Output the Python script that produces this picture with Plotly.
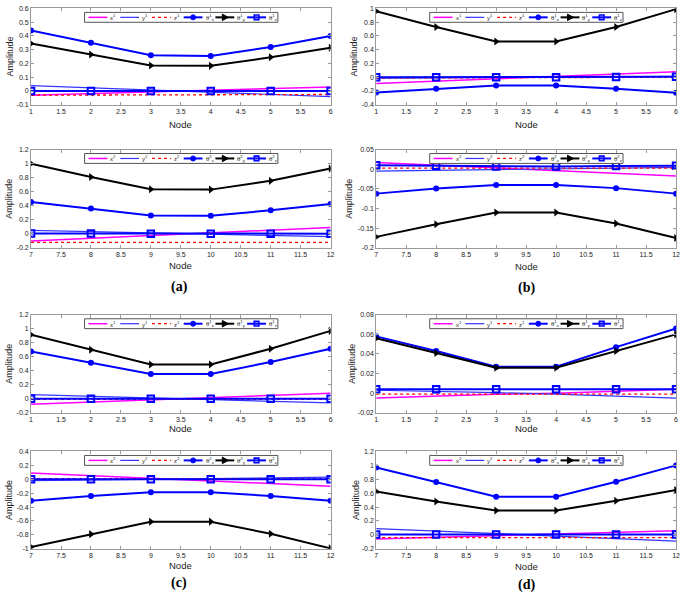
import plotly.graph_objects as go

W, H = 685, 598

# ---------------- data ----------------
nodes_1 = [1, 2, 3, 4, 5, 6]
nodes_2 = [7, 8, 9, 10, 11, 12]

# (a) upper, beam 1
a1_x = [-0.03, -0.018, -0.006, 0.006, 0.018, 0.03]
a1_y = [0.04, 0.025, 0.008, -0.008, -0.025, -0.04]
a1_z = [-0.03, -0.029, -0.028, -0.027, -0.026, -0.025]
a1_tx = [0.44, 0.35, 0.26, 0.255, 0.32, 0.40]
a1_ty = [0.345, 0.265, 0.185, 0.183, 0.245, 0.315]
a1_tz = [0.0, 0.0, 0.0, 0.0, 0.0, 0.0]
# (a) lower, beam 2
a2_x = [-0.1, -0.062, -0.024, 0.014, 0.052, 0.09]
a2_y = [0.05, 0.032, 0.014, -0.004, -0.022, -0.04]
a2_z = [-0.12, -0.12, -0.12, -0.12, -0.12, -0.12]
a2_tx = [0.455, 0.36, 0.26, 0.258, 0.335, 0.425]
a2_ty = [1.0, 0.81, 0.635, 0.63, 0.755, 0.93]
a2_tz = [0.005, 0.004, 0.003, 0.0, 0.0, 0.003]
# (b) upper
b1_x = [-0.09, -0.056, -0.022, 0.012, 0.046, 0.08]
b1_y = [-0.012, -0.007, -0.002, 0.003, 0.008, 0.012]
b1_z = [-0.01, -0.008, -0.006, -0.004, -0.002, 0.0]
b1_tx = [-0.22, -0.165, -0.12, -0.12, -0.165, -0.225]
b1_ty = [0.96, 0.73, 0.52, 0.52, 0.73, 0.99]
b1_tz = [0.0, 0.0, 0.0, 0.0, 0.005, 0.008]
# (b) lower
b2_x = [0.017, 0.010, 0.003, -0.003, -0.010, -0.017]
b2_y = [-0.005, -0.003, -0.001, 0.001, 0.003, 0.005]
b2_z = [0.003, 0.003, 0.003, 0.003, 0.003, 0.003]
b2_tx = [-0.062, -0.049, -0.04, -0.04, -0.048, -0.062]
b2_ty = [-0.172, -0.14, -0.11, -0.11, -0.138, -0.175]
b2_tz = [0.01, 0.009, 0.007, 0.007, 0.008, 0.009]
# (c) upper
c1_x = [-0.08, -0.048, -0.016, 0.016, 0.048, 0.08]
c1_y = [0.06, 0.036, 0.012, -0.012, -0.036, -0.06]
c1_z = [-0.01, -0.01, -0.01, -0.01, -0.01, -0.01]
c1_tx = [0.675, 0.515, 0.355, 0.355, 0.525, 0.715]
c1_ty = [0.915, 0.70, 0.49, 0.49, 0.715, 0.97]
c1_tz = [0.0, 0.0, 0.0, 0.0, 0.0, 0.0]
# (c) lower
c2_x = [0.09, 0.052, 0.014, -0.024, -0.062, -0.1]
c2_y = [-0.02, -0.01, 0.0, 0.01, 0.02, 0.03]
c2_z = [0.01, 0.01, 0.01, 0.01, 0.01, 0.01]
c2_tx = [-0.31, -0.24, -0.185, -0.185, -0.24, -0.31]
c2_ty = [-0.975, -0.79, -0.61, -0.61, -0.785, -0.995]
c2_tz = [0.0, 0.0, 0.0, 0.0, 0.0, 0.0]
# (d) upper
d1_x = [-0.005, -0.003, -0.001, 0.0, 0.002, 0.004]
d1_y = [0.003, 0.002, 0.0005, -0.001, -0.003, -0.005]
d1_z = [-0.001, -0.001, -0.001, -0.001, -0.001, -0.001]
d1_tx = [0.058, 0.043, 0.027, 0.027, 0.047, 0.066]
d1_ty = [0.056, 0.041, 0.026, 0.026, 0.043, 0.060]
d1_tz = [0.004, 0.004, 0.004, 0.004, 0.004, 0.004]
# (d) lower
d2_x = [-0.06, -0.036, -0.012, 0.012, 0.036, 0.06]
d2_y = [0.09, 0.054, 0.018, -0.018, -0.054, -0.09]
d2_z = [-0.04, -0.04, -0.04, -0.04, -0.04, -0.04]
d2_tx = [0.97, 0.76, 0.55, 0.55, 0.765, 1.0]
d2_ty = [0.625, 0.48, 0.35, 0.35, 0.49, 0.645]
d2_tz = [0.005, 0.005, 0.005, 0.005, 0.005, 0.005]

# tick labels
xt1_vals = [1, 1.5, 2, 2.5, 3, 3.5, 4, 4.5, 5, 5.5, 6]
xt1_text = ["1", "1.5", "2", "2.5", "3", "3.5", "4", "4.5", "5", "5.5", "6"]
xt2_vals = [7, 7.5, 8, 8.5, 9, 9.5, 10, 10.5, 11, 11.5, 12]
xt2_text = ["7", "7.5", "8", "8.5", "9", "9.5", "10", "10.5", "11", "11.5", "12"]

yt_a1 = [-0.1, 0, 0.1, 0.2, 0.3, 0.4, 0.5, 0.6]
yt_a1_text = ["-0.1", "0", "0.1", "0.2", "0.3", "0.4", "0.5", "0.6"]
yt_m02_12 = [-0.2, 0, 0.2, 0.4, 0.6, 0.8, 1.0, 1.2]
yt_m02_12_text = ["-0.2", "0", "0.2", "0.4", "0.6", "0.8", "1", "1.2"]
yt_b1 = [-0.4, -0.2, 0, 0.2, 0.4, 0.6, 0.8, 1.0]
yt_b1_text = ["-0.4", "-0.2", "0", "0.2", "0.4", "0.6", "0.8", "1"]
yt_b2 = [-0.2, -0.15, -0.1, -0.05, 0, 0.05]
yt_b2_text = ["-0.2", "-0.15", "-0.1", "-0.05", "0", "0.05"]
yt_c2 = [-1.0, -0.8, -0.6, -0.4, -0.2, 0, 0.2, 0.4]
yt_c2_text = ["-1", "-0.8", "-0.6", "-0.4", "-0.2", "0", "0.2", "0.4"]
yt_d1 = [-0.02, 0, 0.02, 0.04, 0.06, 0.08]
yt_d1_text = ["-0.02", "0", "0.02", "0.04", "0.06", "0.08"]

panel_labels = ["(a)", "(b)", "(c)", "(d)"]

# ---------------- layout geometry (pixels) ----------------
COLS = [(29.3, 331.5), (377.5, 680.0)]
ROWS = [(4.5, 102.0), (147.3, 246.8), (314.5, 413.6), (452.8, 551.2)]


def px(xw):
    return xw / W


def py(yw):
    return 1 - yw / H


panels = [
    # (col, row, nodes, series, yrange, ytickvals, yticktext, sup, amp_x, node_y)
    (0, 0, nodes_1, (a1_x, a1_y, a1_z, a1_tx, a1_ty, a1_tz), [-0.1, 0.6], yt_a1, yt_a1_text, "1", 8, 122),
    (0, 1, nodes_2, (a2_x, a2_y, a2_z, a2_tx, a2_ty, a2_tz), [-0.2, 1.2], yt_m02_12, yt_m02_12_text, "2", 7, 265),
    (1, 0, nodes_1, (b1_x, b1_y, b1_z, b1_tx, b1_ty, b1_tz), [-0.4, 1.0], yt_b1, yt_b1_text, "1", 355, 122),
    (1, 1, nodes_2, (b2_x, b2_y, b2_z, b2_tx, b2_ty, b2_tz), [-0.2, 0.05], yt_b2, yt_b2_text, "2", 350, 266),
    (0, 2, nodes_1, (c1_x, c1_y, c1_z, c1_tx, c1_ty, c1_tz), [-0.2, 1.2], yt_m02_12, yt_m02_12_text, "1", 7, 430),
    (0, 3, nodes_2, (c2_x, c2_y, c2_z, c2_tx, c2_ty, c2_tz), [-1.0, 0.4], yt_c2, yt_c2_text, "2", 7, 568),
    (1, 2, nodes_1, (d1_x, d1_y, d1_z, d1_tx, d1_ty, d1_tz), [-0.02, 0.08], yt_d1, yt_d1_text, "1", 353, 430),
    (1, 3, nodes_2, (d2_x, d2_y, d2_z, d2_tx, d2_ty, d2_tz), [-0.2, 1.2], yt_m02_12, yt_m02_12_text, "2", 357, 569),
]

MAG = "#ff00ff"
BLUE = "#0000ff"
BLUE_L = "#3333ff"
RED = "#ff0000"
BLACK = "#000000"

styles = [
    dict(mode="lines", line=dict(color=MAG, width=1.5)),
    dict(mode="lines", line=dict(color=BLUE_L, width=1.2)),
    dict(mode="lines", line=dict(color=RED, width=1.3, dash="dot")),
    dict(mode="lines+markers", line=dict(color=BLUE, width=2),
         marker=dict(symbol="circle", size=6, color=BLUE)),
    dict(mode="lines+markers", line=dict(color=BLACK, width=2),
         marker=dict(symbol="triangle-right", size=7, color=BLACK)),
    dict(mode="lines+markers", line=dict(color=BLUE, width=2),
         marker=dict(symbol="square-open", size=6.5, color=BLUE, line=dict(width=2))),
]

fig = go.Figure()
layout = dict(width=W, height=H, margin=dict(l=0, r=0, t=0, b=0),
              paper_bgcolor="white", plot_bgcolor="white", showlegend=False)
shapes = []
annotations = []

FONT = "Liberation Sans"
FRAME = "#9a9a9a"

for k, (col, row, nodes, series, yr, ytv, ytt, sup, amp_x, node_y) in enumerate(panels, start=1):
    L, R = COLS[col]
    T, B = ROWS[row]
    pw, ph = R - L, B - T
    xs = "" if k == 1 else str(k)
    xa, ya = "x" + xs, "y" + xs
    for s, st in zip(series, styles):
        fig.add_trace(go.Scatter(x=nodes, y=s, xaxis=xa, yaxis=ya, hoverinfo="skip", **st))
    common = dict(showgrid=False, zeroline=False, showline=True, linecolor=FRAME, linewidth=1,
                  mirror="ticks", ticks="inside", ticklen=3, tickcolor=FRAME, tickwidth=1,
                  ticklabeloverflow="allow",
                  tickfont=dict(family=FONT, size=7, color="#222"))
    layout["xaxis" + xs] = dict(domain=[px(L), px(R)], anchor=ya, range=[nodes[0], nodes[-1]],
                                tickmode="array",
                                tickvals=xt1_vals if nodes[0] == 1 else xt2_vals,
                                ticktext=xt1_text if nodes[0] == 1 else xt2_text, **common)
    layout["yaxis" + xs] = dict(domain=[py(B), py(T)], anchor=xa, range=yr,
                                tickmode="array", tickvals=ytv, ticktext=ytt, **common)

    # axis titles
    annotations.append(dict(text="Node", x=px((L + R) / 2), y=py(node_y), xref="paper", yref="paper",
                            showarrow=False, font=dict(family=FONT, size=9.5, color="#222"),
                            xanchor="center", yanchor="middle"))
    annotations.append(dict(text="Amplitude", x=px(amp_x), y=py((T + B) / 2), xref="paper", yref="paper",
                            showarrow=False, textangle=-90, font=dict(family=FONT, size=9, color="#222"),
                            xanchor="center", yanchor="middle"))

    # custom legend box drawn inside plot area
    xd, yd = xa + " domain", ya + " domain"
    LL, LW, LT, LH = 54.0, 195.0, 4.0, 10.0
    fx = lambda p: p / pw
    fy = lambda p: 1 - p / ph
    shapes.append(dict(type="rect", xref=xd, yref=yd, x0=fx(LL), x1=fx(LL + LW), y0=fy(LT + LH), y1=fy(LT),
                       line=dict(color="#555", width=1), fillcolor="white", layer="above"))
    yc = fy(LT + LH / 2)
    labels = ["x<sup>%s</sup>" % sup, "y<sup>%s</sup>" % sup, "z<sup>%s</sup>" % sup,
              "θ<sup>%s</sup><sub>x</sub>" % sup, "θ<sup>%s</sup><sub>y</sub>" % sup,
              "θ<sup>%s</sup><sub>z</sub>" % sup]
    for i, st in enumerate(styles):
        x0 = LL + 4 + 32 * i
        x1 = x0 + 19
        ln = st["line"]
        shapes.append(dict(type="line", xref=xd, yref=yd, x0=fx(x0), x1=fx(x1), y0=yc, y1=yc,
                           line=dict(color=ln["color"], width=ln["width"], dash=ln.get("dash", "solid")),
                           layer="above"))
        xm = fx((x0 + x1) / 2)
        if i == 3:
            shapes.append(dict(type="circle", xref=xd, yref=yd, xsizemode="pixel", ysizemode="pixel",
                               xanchor=xm, yanchor=yc, x0=-2.5, x1=2.5, y0=-2.5, y1=2.5,
                               fillcolor=BLUE, line=dict(color=BLUE, width=1), layer="above"))
        elif i == 4:
            shapes.append(dict(type="path", xref=xd, yref=yd, xsizemode="pixel", ysizemode="pixel",
                               xanchor=xm, yanchor=yc, path="M-2.5,-3.2 L3.5,0 L-2.5,3.2 Z",
                               fillcolor=BLACK, line=dict(color=BLACK, width=1), layer="above"))
        elif i == 5:
            shapes.append(dict(type="rect", xref=xd, yref=yd, xsizemode="pixel", ysizemode="pixel",
                               xanchor=xm, yanchor=yc, x0=-2.3, x1=2.3, y0=-2.3, y1=2.3,
                               fillcolor="rgba(0,0,0,0)", line=dict(color=BLUE, width=1.6), layer="above"))
        annotations.append(dict(text=labels[i], x=fx(x0 + 21), y=yc, xref=xd, yref=yd, showarrow=False,
                                xanchor="left", yanchor="middle", borderpad=0,
                                font=dict(family=FONT, size=6, color="#222")))

# panel labels
label_pos = [(179, 286), (529, 287), (179, 586), (529, 588)]
for lab, (lx, ly) in zip(panel_labels, label_pos):
    annotations.append(dict(text="<b>%s</b>" % lab, x=px(lx), y=py(ly), xref="paper", yref="paper",
                            showarrow=False, xanchor="center", yanchor="middle",
                            font=dict(family="Liberation Serif", size=14, color="black")))

layout["shapes"] = shapes
layout["annotations"] = annotations
fig.update_layout(**layout)
# remove the page's default 8px body margin so the 685x598 figure fills the window exactly
fig.write_html("out.html", config={"displayModeBar": False},
               post_script="document.body.style.margin='0';document.body.style.overflow='hidden';")
